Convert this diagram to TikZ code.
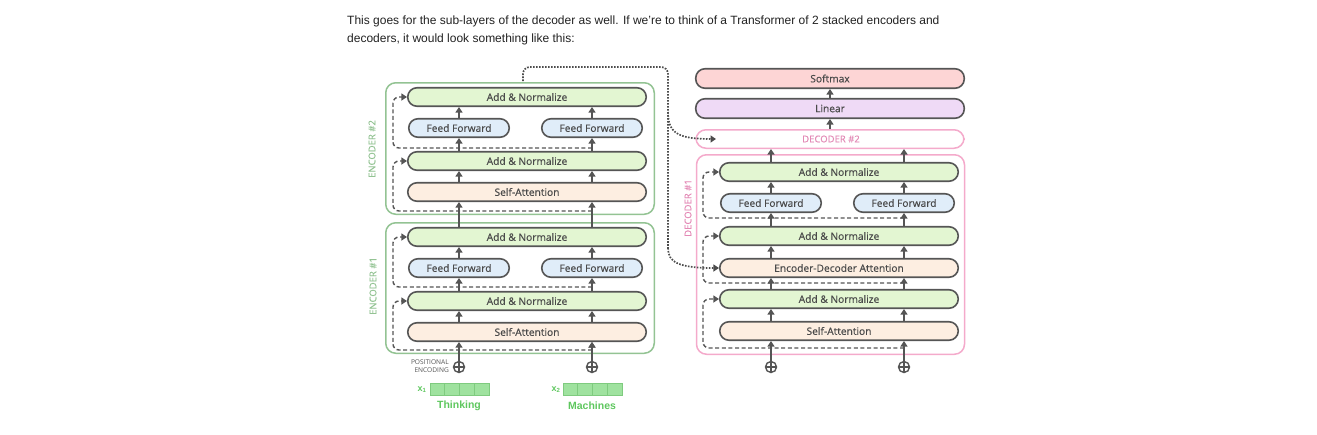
\documentclass[tikz,border=0pt]{standalone}
\usepackage{fontspec}
\setmainfont{Open Sans}
\newfontfamily\boxf[FakeBold=0.45]{Open Sans}
\newfontfamily\arialf{Liberation Sans}
\usetikzlibrary{arrows.meta}
\definecolor{dgray}{HTML}{555555}
\definecolor{tgray}{HTML}{4A4A4A}
\definecolor{angreen}{HTML}{E3F6D2}
\definecolor{ffblue}{HTML}{E0EDF9}
\definecolor{sapeach}{HTML}{FDEEE1}
\definecolor{smred}{HTML}{FDD5D5}
\definecolor{linpur}{HTML}{EFDAF6}
\definecolor{encg}{HTML}{93C393}
\definecolor{decp}{HTML}{F4AACB}
\definecolor{decpt}{HTML}{E38AB6}
\definecolor{inpg}{HTML}{5EC75E}
\definecolor{cellf}{HTML}{9FE29F}
\definecolor{cellb}{HTML}{7FCB7F}
\begin{document}
\begin{tikzpicture}[x=1pt,y=-1pt,
 blk/.style={draw=dgray,line width=1.6pt,rounded corners=9.2pt,minimum height=18.5pt,inner sep=0pt,text=tgray,font=\boxf\fontsize{10.2}{12}\selectfont},
 an/.style={blk,fill=angreen,minimum width=238.5pt},
 ff/.style={blk,fill=ffblue,minimum width=100.5pt},
 sa/.style={blk,fill=sapeach,minimum width=238.5pt},
 wide/.style={blk,minimum width=268.5pt,minimum height=19.5pt},
 arr/.style={draw=dgray,line width=1.3pt,-{Triangle[length=5.5pt,width=7pt]}},
 res/.style={draw=dgray,line width=1.4pt,dash pattern=on 4pt off 2.6pt,rounded corners=6pt,-{Triangle[length=5.5pt,width=7pt]}},
 dots/.style={draw=dgray!90!black,line width=1.7pt,dash pattern=on 1.6pt off 1.4pt},
 encbox/.style={draw=encg,line width=1.5pt,rounded corners=10pt,minimum width=268.5pt,inner sep=0pt},
 decbox/.style={draw=decp,line width=1.5pt,rounded corners=10pt,minimum width=268pt,inner sep=0pt},
 enclab/.style={text=encg,rotate=90,font=\boxf\fontsize{9.5}{11}\selectfont,inner sep=0pt},
 declab/.style={text=decpt,font=\boxf\fontsize{9.5}{11}\selectfont,inner sep=0pt},
 pe/.style={circle,draw=dgray,line width=1.4pt,minimum size=11pt,inner sep=0pt,
   path picture={\draw[dgray,line width=1.2pt] (path picture bounding box.north) -- (path picture bounding box.south) (path picture bounding box.west) -- (path picture bounding box.east);}},
 cell/.style={draw=cellb,fill=cellf,line width=0.8pt,minimum width=14.75pt,minimum height=12.5pt,inner sep=0pt},
 word/.style={text=inpg,font=\arialf\bfseries\fontsize{10.5}{12}\selectfont,inner sep=0pt},
 xlab/.style={text=inpg,font=\arialf\bfseries\fontsize{9}{10}\selectfont,inner sep=0pt},
 para/.style={anchor=base west,inner sep=0pt,text=black!87,font=\arialf\fontsize{12}{14}\selectfont}
]
\useasboundingbox (0,0) rectangle (1317,434);

% paragraph
\node[para] (p1) at (347,24) {This goes for the sub-layers of the decoder as well. If we’re to think of a Transformer of 2 stacked encoders and};
\node[para] (p2) at (347,42) {decoders, it would look something like this:};

% encoder containers
\node[encbox,minimum height=131.5pt] (enc2) at (520,148.5) {};
\node[encbox,minimum height=130.5pt] (enc1) at (520,288) {};
\node[enclab] (enc2lab) at (372,149) {ENCODER \#2};
\node[enclab] (enc1lab) at (373,286) {ENCODER \#1};

% encoder 2
\node[an] (e2an2) at (527,97) {Add \& Normalize};
\node[ff] (e2ffL) at (459,128) {Feed Forward};
\node[ff] (e2ffR) at (592,128) {Feed Forward};
\node[an] (e2an1) at (527,161) {Add \& Normalize};
\node[sa] (e2sa) at (527,192) {Self-Attention};

% encoder 1
\node[an] (e1an2) at (527,237) {Add \& Normalize};
\node[ff] (e1ffL) at (459,268) {Feed Forward};
\node[ff] (e1ffR) at (592,268) {Feed Forward};
\node[an] (e1an1) at (527,301) {Add \& Normalize};
\node[sa] (e1sa) at (527,332) {Self-Attention};

% inputs
\node[pe] (pe1) at (459,367) {};
\node[pe] (pe2) at (592,367) {};
\node[anchor=east,align=right,inner sep=0pt,text=dgray,font=\fontsize{6.6}{7.6}\selectfont] (pelab) at (449,366) {POSITIONAL\\ENCODING};
\node[xlab] (x1) at (422,390) {x\textsubscript{1}};
\node[cell] (c11) at (437.4,389.5) {};
\node[cell] (c12) at (452.1,389.5) {};
\node[cell] (c13) at (466.9,389.5) {};
\node[cell] (c14) at (481.6,389.5) {};
\node[word] (w1) at (459,406) {Thinking};
\node[xlab] (x2) at (556,390) {x\textsubscript{2}};
\node[cell] (c21) at (570.4,389.5) {};
\node[cell] (c22) at (585.1,389.5) {};
\node[cell] (c23) at (599.9,389.5) {};
\node[cell] (c24) at (614.6,389.5) {};
\node[word] (w2) at (592,406) {Machines};

% encoder arrows
\foreach \c in {e1ffL,e1ffR}{
  \draw[arr] (pe1.north -| \c) -- (e1sa.south -| \c);
  \draw[arr] (e1sa.north -| \c) -- (e1an1.south -| \c);
  \draw[arr] (e1an1.north -| \c) -- (\c.south);
  \draw[arr] (\c.north) -- (e1an2.south -| \c);
  \draw[arr] (e1an2.north -| \c) -- (e2sa.south -| \c);
}
\draw[arr] (pe2.north) -- (e1sa.south -| pe2);
\foreach \c in {e2ffL,e2ffR}{
  \draw[arr] (e2sa.north -| \c) -- (e2an1.south -| \c);
  \draw[arr] (e2an1.north -| \c) -- (\c.south);
  \draw[arr] (\c.north) -- (e2an2.south -| \c);
}

% encoder residuals
\coordinate (r1) at (592,350);
\coordinate (r2) at (592,287);
\coordinate (r3) at (592,211);
\coordinate (r4) at (592,148);
\draw[res] (r1) -- (393,350) -- (393,301) -- (e1an1.west);
\draw[res] (r2) -- (393,287) -- (393,237) -- (e1an2.west);
\draw[res] (r3) -- (393,211) -- (393,161) -- (e2an1.west);
\draw[res] (r4) -- (393,148) -- (393,97) -- (e2an2.west);

% decoder
\node[wide,fill=smred] (sm) at (830,78.5) {Softmax};
\node[wide,fill=linpur] (lin) at (830,108.5) {Linear};
\node[decbox,minimum height=18.5pt,fill=white] (dec2) at (830,139) {};
\node[declab] (dec2lab) at (831,139) {DECODER \#2};
\node[decbox,minimum height=199.5pt] (dec1) at (830.5,254.5) {};
\node[declab,rotate=90] (dec1lab) at (688,208) {DECODER \#1};

\node[an] (dan3) at (839,172) {Add \& Normalize};
\node[ff] (dffL) at (771,203) {Feed Forward};
\node[ff] (dffR) at (904,203) {Feed Forward};
\node[an] (dan2) at (839,236) {Add \& Normalize};
\node[sa] (eda) at (839,268) {Encoder-Decoder Attention};
\node[an] (dan1) at (839,299) {Add \& Normalize};
\node[sa] (dsa) at (839,331) {Self-Attention};
\node[pe] (pe3) at (771,367) {};
\node[pe] (pe4) at (904,367) {};

\draw[arr] (pe3.north) -- (dsa.south -| pe3);
\draw[arr] (pe4.north) -- (dsa.south -| pe4);
\foreach \c in {dffL,dffR}{
  \draw[arr] (dsa.north -| \c) -- (dan1.south -| \c);
  \draw[arr] (dan1.north -| \c) -- (eda.south -| \c);
  \draw[arr] (eda.north -| \c) -- (dan2.south -| \c);
  \draw[arr] (dan2.north -| \c) -- (\c.south);
  \draw[arr] (\c.north) -- (dan3.south -| \c);
  \draw[arr] (dan3.north -| \c) -- (dec2.south -| \c);
}
\draw[arr] (dec2.north) -- (lin.south);
\draw[arr] (lin.north) -- (sm.south);

% decoder residuals
\coordinate (q1) at (904,348);
\coordinate (q2) at (904,283);
\coordinate (q3) at (904,218);
\draw[res] (q1) -- (703,348) -- (703,299) -- (dan1.west);
\draw[res] (q2) -- (703,283) -- (703,236) -- (dan2.west);
\draw[res] (q3) -- (703,218) -- (703,172) -- (dan3.west);

% encoder-decoder dotted link
\coordinate (ds) at (523,81);
\coordinate (dt) at (716,139);
\draw[dots,rounded corners=7pt] (ds) -- (523,67) -- (668,67) -- (668,250);
\draw[dots,-{Triangle[length=5.5pt,width=7pt]}] (668,248) .. controls (668,262) and (678,268) .. (eda.west);
\draw[dots,-{Triangle[length=5.5pt,width=7pt]}] (668,112) .. controls (668,133) and (678,139) .. (dt);
\end{tikzpicture}
\end{document}
